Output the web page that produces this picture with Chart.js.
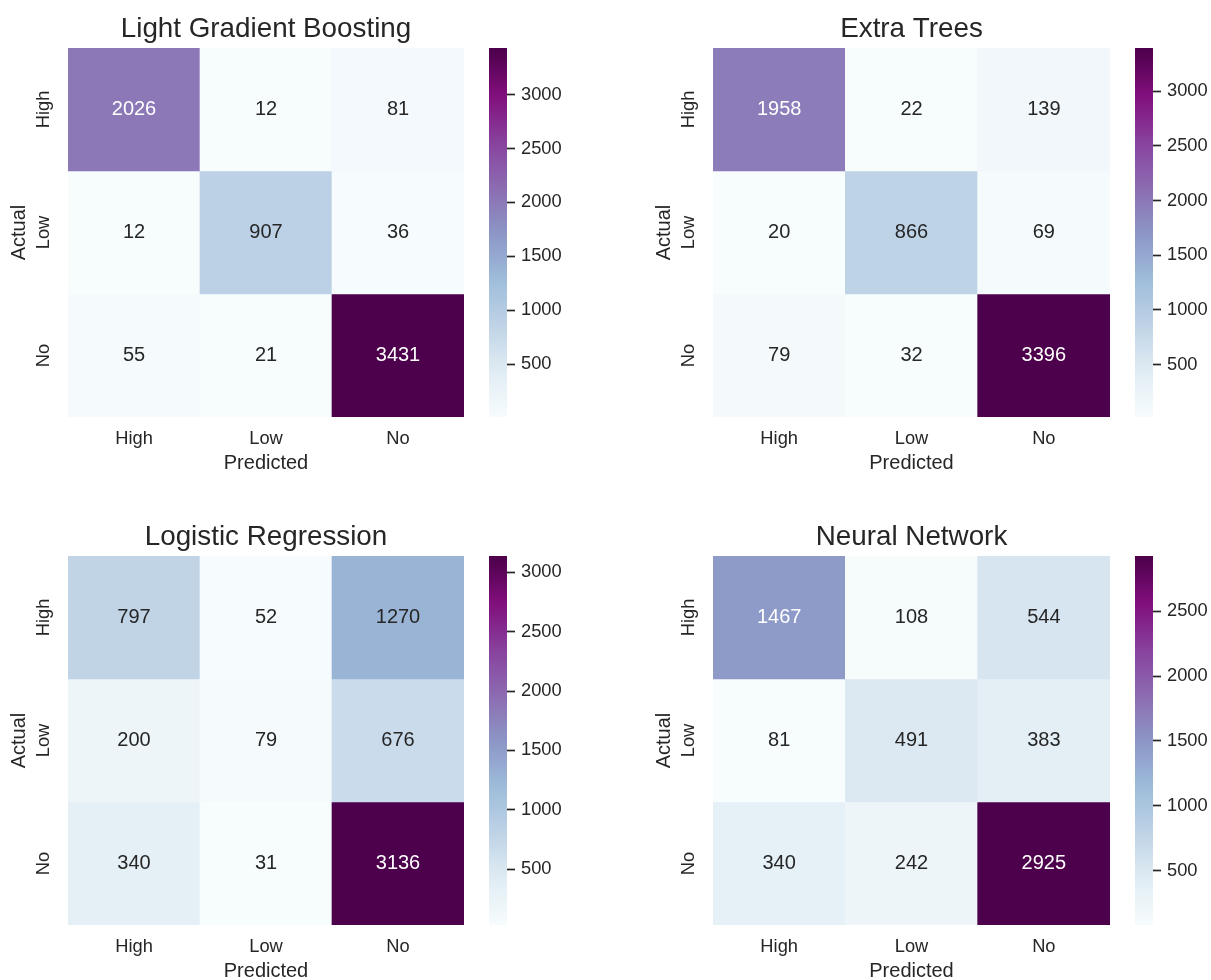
<!DOCTYPE html>
<html>
<head>
<meta charset="utf-8">
<script src="https://cdn.jsdelivr.net/npm/chart.js@4.4.0/dist/chart.umd.min.js"></script>
<style>
  html, body { margin: 0; padding: 0; background: #ffffff; }
  body { width: 1211px; height: 980px; overflow: hidden; position: relative; }
  canvas { position: absolute; }
</style>
</head>
<body>
<script>
// Class names shared by both axes of every confusion matrix
const classLabels = ['High', 'Low', 'No'];

// Confusion matrices: rows = actual class, columns = predicted class
const lgbCounts = [[2026, 12, 81], [12, 907, 36], [55, 21, 3431]];
const etCounts  = [[1958, 22, 139], [20, 866, 69], [79, 32, 3396]];
const lrCounts  = [[797, 52, 1270], [200, 79, 676], [340, 31, 3136]];
const nnCounts  = [[1467, 108, 544], [81, 491, 383], [340, 242, 2925]];

// Colour bar tick values
const lgbTicks = [500, 1000, 1500, 2000, 2500, 3000];
const etTicks  = [500, 1000, 1500, 2000, 2500, 3000];
const lrTicks  = [500, 1000, 1500, 2000, 2500, 3000];
const nnTicks  = [500, 1000, 1500, 2000, 2500];

const modelTitles = ['Light Gradient Boosting', 'Extra Trees', 'Logistic Regression', 'Neural Network'];

// ---------------------------------------------------------------------------
const TEXT = '#262626';
Chart.defaults.font.family = "'Liberation Sans', Arial, sans-serif";
Chart.defaults.color = TEXT;
Chart.defaults.animation = false;
Chart.defaults.events = [];

// BuPu colour map stops
const BUPU = ['#f7fcfd', '#e0ecf4', '#bfd3e6', '#9ebcda', '#8c96c6', '#8c6bb1', '#88419d', '#810f7c', '#4d004b'];
const BUPU_RGB = BUPU.map(h => [1, 3, 5].map(i => parseInt(h.slice(i, i + 2), 16)));

function bupu(t) {
  t = Math.min(1, Math.max(0, t));
  const idx = Math.min(255, Math.floor(t * 256));
  const q = idx / 255 * (BUPU_RGB.length - 1);
  const k = Math.min(BUPU_RGB.length - 2, Math.floor(q));
  const f = q - k;
  return BUPU_RGB[k].map((c, i) => c + (BUPU_RGB[k + 1][i] - c) * f);
}
const rgbStr = c => `rgb(${c.map(Math.round).join(',')})`;

function luminance(rgb) {
  const lin = rgb.map(v => {
    v /= 255;
    return v <= 0.03928 ? v / 12.92 : Math.pow((v + 0.055) / 1.055, 2.4);
  });
  return 0.2126 * lin[0] + 0.7152 * lin[1] + 0.0722 * lin[2];
}

// Writes each cell's count in the middle of its bar
const cellLabels = {
  id: 'cellLabels',
  afterDatasetsDraw(chart) {
    const ctx = chart.ctx;
    ctx.save();
    ctx.font = "20px 'Liberation Sans', Arial, sans-serif";
    ctx.textAlign = 'center';
    ctx.textBaseline = 'middle';
    chart.data.datasets.forEach((ds, r) => {
      chart.getDatasetMeta(r).data.forEach((bar, c) => {
        ctx.fillStyle = ds.textColors[c];
        ctx.fillText(String(ds.cellValues[c]), bar.x, (bar.y + bar.base) / 2);
      });
    });
    ctx.restore();
  }
};

function addCanvas(left, top, width, height) {
  const cv = document.createElement('canvas');
  cv.width = width;
  cv.height = height;
  cv.style.left = left + 'px';
  cv.style.top = top + 'px';
  cv.style.width = width + 'px';
  cv.style.height = height + 'px';
  document.body.appendChild(cv);
  return cv;
}

const AXIS_W = 68;     // room for the y tick labels and "Actual"
const TITLE_H = 48;    // room for the panel title
const XAXIS_H = 64;    // room for the x tick labels and "Predicted"
const CELL_H = 369;

function drawHeatmap(p) {
  const flat = p.counts.flat();
  const vmin = Math.min(...flat);
  const vmax = Math.max(...flat);

  const datasets = p.counts.map((row, r) => {
    const cols = row.map(v => bupu((v - vmin) / (vmax - vmin)));
    return {
      data: classLabels.map(() => [r, r + 1]),
      backgroundColor: cols.map(rgbStr),
      borderWidth: 0,
      grouped: false,
      barPercentage: 1,
      categoryPercentage: 1,
      cellValues: row,
      textColors: cols.map(c => luminance(c) > 0.408 ? TEXT : '#ffffff')
    };
  });

  const cv = addCanvas(p.hx - AXIS_W, p.hy - TITLE_H, AXIS_W + p.w + 4, TITLE_H + CELL_H + XAXIS_H);
  new Chart(cv, {
    type: 'bar',
    data: { labels: classLabels, datasets },
    options: {
      responsive: false,
      layout: { padding: { left: 0, right: 4, top: 0, bottom: 0 } },
      plugins: {
        legend: { display: false },
        tooltip: { enabled: false },
        title: {
          display: true,
          text: p.title,
          fullSize: false,
          color: TEXT,
          font: { size: 27.8, weight: 'normal', lineHeight: '34px' },
          padding: { top: 12.5, bottom: 1.5 }
        }
      },
      scales: {
        x: {
          type: 'category',
          offset: true,
          grid: { display: false, drawTicks: false, tickLength: 0 },
          border: { display: false },
          ticks: { padding: 10.5, color: TEXT, font: { size: 18.3 } },
          title: { display: true, text: 'Predicted', color: TEXT, font: { size: 20 }, padding: { top: 0, bottom: 6 } },
          afterFit: s => { s.height = XAXIS_H; }
        },
        y: {
          type: 'linear',
          min: 0,
          max: classLabels.length,
          reverse: true,
          grid: { display: false, drawTicks: false, tickLength: 0 },
          border: { display: false },
          afterBuildTicks: s => { s.ticks = classLabels.map((_, i) => ({ value: i + 0.5 })); },
          ticks: {
            minRotation: 90,
            maxRotation: 90,
            crossAlign: 'center',
            padding: 5.5,
            color: TEXT,
            font: { size: 18.3 },
            callback: (v, i) => classLabels[i]
          },
          title: { display: true, text: 'Actual', color: TEXT, font: { size: 20 }, padding: { top: 7.5, bottom: 0 } },
          afterFit: s => { s.width = AXIS_W; }
        }
      }
    },
    plugins: [cellLabels]
  });

  // Colour bar: one floating bar from the smallest to the largest count
  const stops = [];
  for (let i = 0; i <= 32; i++) stops.push(rgbStr(bupu(i / 32)));
  const cb = addCanvas(p.cbx, p.hy - 20, 18 + 80, CELL_H + 40);
  new Chart(cb, {
    type: 'bar',
    data: {
      labels: [''],
      datasets: [{
        data: [[vmin, vmax]],
        borderWidth: 0,
        barPercentage: 1,
        categoryPercentage: 1,
        backgroundColor: ctx => {
          const area = ctx.chart.chartArea;
          if (!area) return stops[0];
          const g = ctx.chart.ctx.createLinearGradient(0, area.bottom, 0, area.top);
          stops.forEach((c, i) => g.addColorStop(i / (stops.length - 1), c));
          return g;
        }
      }]
    },
    options: {
      responsive: false,
      layout: { padding: { left: 0, right: 0, top: 20, bottom: 20 } },
      plugins: { legend: { display: false }, tooltip: { enabled: false } },
      scales: {
        x: { display: false, offset: true },
        y: {
          type: 'linear',
          position: 'right',
          min: vmin,
          max: vmax,
          grid: { display: true, drawOnChartArea: false, drawTicks: true, tickLength: 8, tickWidth: 1.7, tickColor: TEXT },
          border: { display: false },
          afterBuildTicks: s => { s.ticks = p.ticks.map(v => ({ value: v })); },
          ticks: { padding: 6, color: TEXT, font: { size: 18.3 }, callback: v => String(v) },
          afterFit: s => { s.width = 80; }
        }
      }
    }
  });
}

const panels = [
  { title: modelTitles[0], counts: lgbCounts, ticks: lgbTicks, hx: 68,  hy: 48,  w: 396, cbx: 489 },
  { title: modelTitles[1], counts: etCounts,  ticks: etTicks,  hx: 713, hy: 48,  w: 397, cbx: 1135 },
  { title: modelTitles[2], counts: lrCounts,  ticks: lrTicks,  hx: 68,  hy: 556, w: 396, cbx: 489 },
  { title: modelTitles[3], counts: nnCounts,  ticks: nnTicks,  hx: 713, hy: 556, w: 397, cbx: 1135 }
];
panels.forEach(drawHeatmap);
</script>
</body>
</html>
